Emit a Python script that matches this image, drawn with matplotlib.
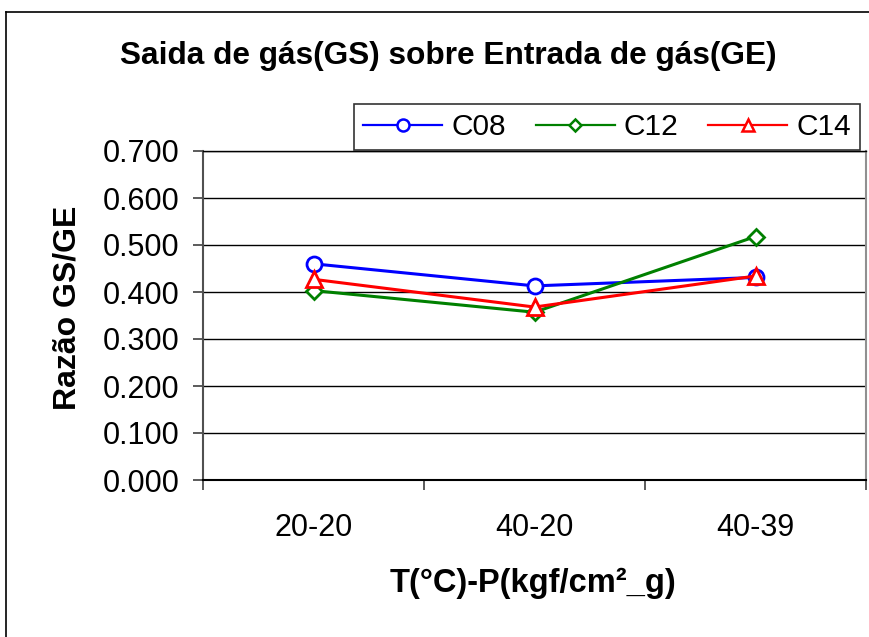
import matplotlib
matplotlib.use("Agg")
import matplotlib.pyplot as plt
from matplotlib.lines import Line2D

plt.rcParams['font.family'] = ['Liberation Sans', 'DejaVu Sans']

categories = ["20-20", "40-20", "40-39"]
c08 = [0.460, 0.413, 0.431]
c12 = [0.403, 0.357, 0.518]
c14 = [0.427, 0.368, 0.434]
yticks = [0.0, 0.1, 0.2, 0.3, 0.4, 0.5, 0.6, 0.7]

W, H = 869, 637
fig = plt.figure(figsize=(W / 100, H / 100), dpi=100)
fig.patch.set_facecolor('white')

ax = fig.add_axes([203 / W, 1 - 480 / H, (866 - 203) / W, (480 - 151) / H])

x = list(range(len(categories)))
series = [
    ("C08", c08, 'blue', 'o', 15),
    ("C12", c12, 'green', 'D', 11),
    ("C14", c14, 'red', '^', 16),
]
handles = []
for name, vals, col, mk, ms in series:
    ax.plot(x, vals, color=col, lw=2.2, marker=mk, markersize=ms * 0.72,
            markerfacecolor='white', markeredgecolor=col, markeredgewidth=2.0,
            zorder=3)
    handles.append(Line2D([0], [0], color=col, lw=1.6, marker=mk,
                          markersize=ms * 0.72 * 0.8, markerfacecolor='white',
                          markeredgecolor=col, markeredgewidth=1.8, label=name))

ax.set_xlim(-0.5, len(categories) - 0.5)
ax.set_ylim(0, 0.7)
ax.set_yticks(yticks)
ax.set_yticklabels([f"{v:.3f}" for v in yticks], fontsize=22)
ax.yaxis.grid(True, color='black', lw=1.0)
ax.set_axisbelow(True)

ax.set_xticks(x)
ax.set_xticklabels(categories, fontsize=22)
ax.tick_params(axis='x', length=0, pad=24)
ax.set_xticks([i - 0.5 for i in range(len(categories) + 1)], minor=True)
ax.tick_params(axis='x', which='minor', length=7, width=1.2, color='#404040')
ax.tick_params(axis='y', length=7, width=1.2, color='#404040', pad=10)

ax.spines['left'].set_color('#505050')
ax.spines['left'].set_linewidth(1.5)
ax.spines['bottom'].set_color('black')
ax.spines['bottom'].set_linewidth(1.5)
ax.spines['right'].set_color('#909090')
ax.spines['right'].set_linewidth(1.5)
ax.spines['top'].set_color('black')
ax.spines['top'].set_linewidth(1.0)

leg = fig.legend(handles=handles, loc='upper right',
                 bbox_to_anchor=(860 / W, 1 - 104 / H), ncol=3, fontsize=21.5,
                 frameon=True, fancybox=False, edgecolor='black',
                 handlelength=2.65, handletextpad=0.3, columnspacing=1.0,
                 borderpad=0.3, borderaxespad=0)
leg.get_frame().set_linewidth(1.2)

fig.text(448 / W, 1 - 56 / H, "Saida de gás(GS) sobre Entrada de gás(GE)",
         ha='center', va='center', fontsize=22.8, fontweight='bold')
fig.text(68 / W, 1 - 308 / H, "Razão GS/GE", rotation=90, ha='center',
         va='center', fontsize=23, fontweight='bold')
fig.text(533 / W, 1 - 583 / H, "T(°C)-P(kgf/cm²_g)", ha='center',
         va='center', fontsize=23.5, fontweight='bold')

# outer chart frame
fig.add_artist(Line2D([5.5 / W, 5.5 / W], [0, 1 - 11.5 / H], color='black',
                      lw=1.2, transform=fig.transFigure))
fig.add_artist(Line2D([5.5 / W, 1], [1 - 11.5 / H, 1 - 11.5 / H], color='black',
                      lw=1.2, transform=fig.transFigure))

fig.savefig("out.png", dpi=100, facecolor='white')
